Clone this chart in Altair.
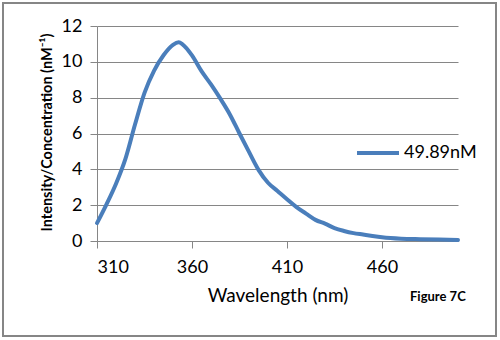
import altair as alt
import pandas as pd

wavelength = [310, 315, 320, 325, 330, 335, 340, 345, 350, 353, 355, 360, 365, 370,
              375, 380, 385, 390, 395, 400, 405, 410, 415, 420, 425, 430, 435, 440,
              445, 450, 455, 460, 470, 480, 490, 500]
intensity = [1.0, 2.05, 3.2, 4.6, 6.5, 8.27, 9.5, 10.37, 10.95, 11.09, 10.98, 10.36,
             9.48, 8.74, 7.93, 7.05, 6.0, 4.97, 3.97, 3.25, 2.79, 2.33, 1.89, 1.53,
             1.18, 0.97, 0.72, 0.56, 0.44, 0.36, 0.28, 0.21, 0.13, 0.1, 0.08, 0.06]
series_name = "49.89nM"
x_ticks = [310, 360, 410, 460]
y_ticks = [0, 2, 4, 6, 8, 10, 12]

df = pd.DataFrame({"wl": wavelength, "val": intensity, "series": series_name})

FONT = "Lato"
GRAY = "#868686"
BLUE = "#4A7EBB"

line = alt.Chart(df).mark_line(strokeWidth=4, interpolate="monotone", strokeCap="round").encode(
    x=alt.X("wl:Q", scale=alt.Scale(domain=[310, 500], nice=False, zero=False),
            axis=alt.Axis(values=x_ticks, title="Wavelength (nm)", grid=False,
                          domainColor=GRAY, tickColor=GRAY, tickSize=7,
                          labelFont=FONT, labelFontSize=18, labelColor="#000",
                          labelPadding=10, titleFont=FONT, titleFontSize=19,
                          titleFontWeight="normal", titleColor="#000",
                          titleY=60, titleBaseline="alphabetic")),
    y=alt.Y("val:Q", scale=alt.Scale(domain=[0, 12], nice=False),
            axis=alt.Axis(values=y_ticks, title="Intensity/Concentration (nM⁻¹)",
                          grid=True, gridColor=GRAY, gridOpacity=1,
                          domainColor=GRAY, tickColor=GRAY, tickSize=7,
                          labelFont=FONT, labelFontSize=18, labelColor="#000",
                          labelPadding=8, titleFont=FONT, titleFontSize=14.5,
                          titleFontWeight="bold", titleColor="#000",
                          titleAngle=-90, titleX=-50, titleY=106,
                          titleAlign="center", titleBaseline="middle")),
    color=alt.Color("series:N", scale=alt.Scale(range=[BLUE]),
                    legend=alt.Legend(title=None, orient="none", legendX=258, legendY=104,
                                      symbolType="stroke", symbolSize=1764,
                                      symbolStrokeWidth=4, labelFont=FONT,
                                      labelFontSize=18, labelColor="#000",
                                      labelOffset=3, padding=0)),
)

border = alt.Chart(df).mark_rect(fill=None, stroke=GRAY, strokeWidth=2).encode(
    x=alt.value(-94), x2=alt.value(399), y=alt.value(-23), y2=alt.value(310)
)

fig_label = alt.Chart(pd.DataFrame({"t": ["Figure 7C"]})).mark_text(
    font=FONT, fontSize=13, fontWeight="bold", color="#000", align="left", baseline="alphabetic"
).encode(text="t:N", x=alt.value(313), y=alt.value(275))

chart = alt.layer(border, line, fig_label).properties(
    width=361, height=215,
    autosize=alt.AutoSizeParams(type="none"),
    padding={"left": 97, "top": 26, "right": 42, "bottom": 99},
    background="white",
).configure_view(stroke=None)

chart.save("out.html", embed_options={"renderer": "svg", "actions": False})
